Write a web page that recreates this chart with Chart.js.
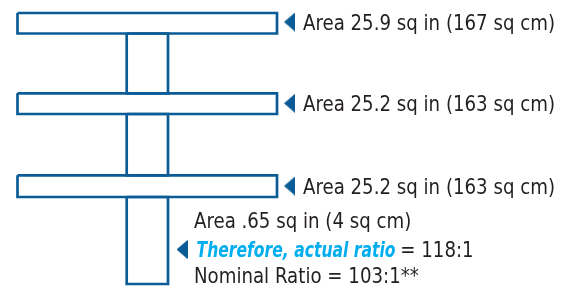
<!DOCTYPE html>
<html>
<head>
<meta charset="utf-8">
<script src="https://cdn.jsdelivr.net/npm/chart.js@4.4.0/dist/chart.umd.min.js"></script>
<style>
  html, body { margin: 0; padding: 0; background: #fff; }
  #wrap { width: 572px; height: 288px; }
</style>
</head>
<body>
<div id="wrap"><canvas id="chart" width="572" height="288"></canvas></div>
<script>
// labels for the three plates, top to bottom
var plateLabels = ['Area 25.9 sq in (167 sq cm)', 'Area 25.2 sq in (163 sq cm)', 'Area 25.2 sq in (163 sq cm)'];
var stemLabel = 'Area .65 sq in (4 sq cm)';
var ratioLead = 'Therefore, actual ratio';
var ratioValue = ' = 118:1';
var nominalLabel = 'Nominal Ratio = 103:1**';

// layout in canvas units (x 0..572, y 0..288 top down)
var plateX = [17.5, 277];
var plateY = [[13, 33.5], [93.3, 114], [175.3, 197]];
var stemX = [126.7, 168];
var stemBottom = 284;
var arrowX = 289.5;
var arrowY = [22, 103.3, 186];
var lowArrow = {x: 182, y: 249.5};

var blue = '#0b5c96';
var cyan = '#00aeef';
var ink = '#231f20';
var font = '"Liberation Sans Narrow", "DejaVu Sans Condensed", "Liberation Sans", sans-serif';

function rect(x0, x1, y0, y1) {
    return [{x: x0, y: y0}, {x: x1, y: y0}, {x: x1, y: y1}, {x: x0, y: y1}, {x: x0, y: y0}];
}

// left pointing arrow head
var arrowImg = document.createElement('canvas');
arrowImg.width = 11;
arrowImg.height = 19;
var actx = arrowImg.getContext('2d');
actx.fillStyle = blue;
actx.beginPath();
actx.moveTo(0, 9.5);
actx.lineTo(11, 0);
actx.lineTo(11, 19);
actx.closePath();
actx.fill();

var datasets = [];
plateY.forEach(function (py) {
    datasets.push({data: rect(plateX[0], plateX[1], py[0], py[1])});
});
// stems between the plates and below the last one
datasets.push({data: rect(stemX[0], stemX[1], plateY[0][1], plateY[1][0])});
datasets.push({data: rect(stemX[0], stemX[1], plateY[1][1], plateY[2][0])});
datasets.push({data: rect(stemX[0], stemX[1], plateY[2][1], stemBottom)});
datasets.forEach(function (d) {
    d.showLine = true;
    d.borderColor = blue;
    d.borderWidth = 2.7;
    d.pointRadius = 0;
    d.fill = false;
    d.clip = false;
});

var arrowPts = arrowY.map(function (y) { return {x: arrowX, y: y}; });
arrowPts.push(lowArrow);
datasets.push({
    data: arrowPts,
    pointStyle: arrowImg,
    pointRadius: 10,
    showLine: false,
    clip: false
});

// draw text squeezed horizontally to fit the condensed face of the original
function squeezed(ctx, text, x, y, k) {
    ctx.save();
    ctx.translate(x, y);
    ctx.scale(k, 1);
    ctx.fillText(text, 0, 0);
    ctx.restore();
    return ctx.measureText(text).width * k;
}

var textPlugin = {
    id: 'labels',
    afterDatasetsDraw: function (chart) {
        var ctx = chart.ctx;
        var sx = chart.scales.x, sy = chart.scales.y;
        ctx.save();
        ctx.textBaseline = 'alphabetic';
        ctx.textAlign = 'left';
        ctx.fillStyle = ink;
        ctx.font = '21px ' + font;
        var k = 252 / ctx.measureText(plateLabels[0]).width;
        plateLabels.forEach(function (t, i) {
            squeezed(ctx, t, sx.getPixelForValue(303), sy.getPixelForValue(arrowY[i] + 8), k);
        });
        squeezed(ctx, stemLabel, sx.getPixelForValue(194), sy.getPixelForValue(227.5), k);
        squeezed(ctx, nominalLabel, sx.getPixelForValue(194), sy.getPixelForValue(283), k);

        ctx.font = 'italic bold 21px ' + font;
        ctx.fillStyle = cyan;
        var x = sx.getPixelForValue(196.5);
        var y = sy.getPixelForValue(257);
        var kb = 199 / ctx.measureText(ratioLead).width;
        var w = squeezed(ctx, ratioLead, x, y, kb);
        ctx.font = '21px ' + font;
        ctx.fillStyle = ink;
        squeezed(ctx, ratioValue, x + w - 1, y, k);
        ctx.restore();
    }
};

var ctx = document.getElementById('chart').getContext('2d');
var myChart = new Chart(ctx, {
    type: 'scatter',
    data: {datasets: datasets},
    options: {
        responsive: false,
        devicePixelRatio: 1,
        animation: false,
        layout: {padding: 0, autoPadding: false},
        plugins: {legend: {display: false}, tooltip: {enabled: false}},
        scales: {
            x: {type: 'linear', min: 0, max: 572, display: false},
            y: {type: 'linear', min: 0, max: 288, reverse: true, display: false}
        }
    },
    plugins: [textPlugin]
});
</script>
</body>
</html>
